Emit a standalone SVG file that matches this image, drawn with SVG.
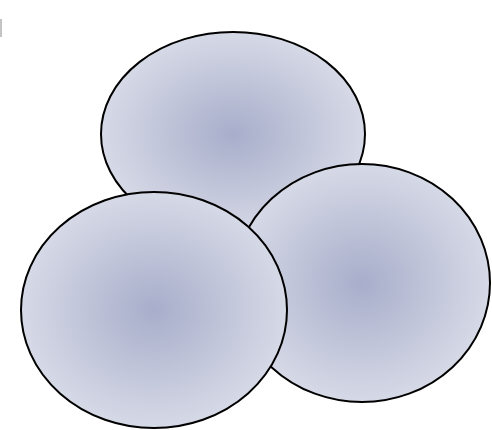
<svg xmlns="http://www.w3.org/2000/svg" width="492" height="430" viewBox="0 0 492 430">
  <defs>
    <radialGradient id="g" cx="0.5" cy="0.5" r="0.5">
      <stop offset="0" stop-color="#a8aecb"/>
      <stop offset="1" stop-color="#d6d9e6"/>
    </radialGradient>
    <style>
      .c { fill: url(#g); stroke: #000; stroke-width: 2; }
    </style>
  </defs>
  <rect width="492" height="430" fill="#fff"/>
  <rect x="0" y="19" width="2" height="18" fill="#c4c4c4"/>
  <g id="top"><ellipse class="c" cx="233" cy="134" rx="132" ry="102"/></g>
  <g id="right"><ellipse class="c" cx="362" cy="283" rx="128" ry="119"/></g>
  <g id="left"><ellipse class="c" cx="154" cy="310" rx="133" ry="118"/></g>
  <g id="connectors"/>
</svg>
